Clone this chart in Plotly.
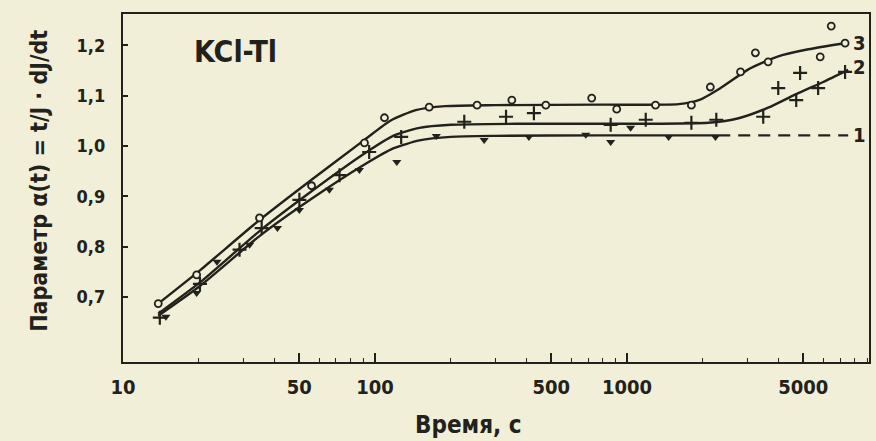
import plotly.graph_objects as go

# ---- data (time in s, parameter alpha) ----
# curve 3 (open circles)
c3_t = [13.8, 19.6, 34.8, 56, 90.8, 109, 164, 254, 349, 476, 724, 910, 1297, 1800, 2140, 2820, 3230, 3630, 5840, 6460, 7330]
c3_v = [0.687, 0.744, 0.857, 0.921, 1.006, 1.056, 1.077, 1.081, 1.091, 1.081, 1.095, 1.073, 1.081, 1.081, 1.117, 1.147, 1.185, 1.167, 1.177, 1.238, 1.204]
c3_line_t = [13.8, 20.2, 34.8, 56, 90.8, 115, 145, 190, 300, 800, 1600, 1950, 2350, 3030, 3980, 5240, 7330]
c3_line_v = [0.687, 0.753, 0.853, 0.933, 1.012, 1.050, 1.071, 1.079, 1.081, 1.082, 1.083, 1.092, 1.115, 1.152, 1.178, 1.192, 1.204]

# curve 2 (crosses)
c2_t = [14.0, 20.2, 29.0, 35.5, 50.1, 72.3, 94.8, 127, 226, 331, 427, 861, 1186, 1800, 2260, 3470, 3980, 4690, 4860, 5730, 7330]
c2_v = [0.659, 0.726, 0.794, 0.837, 0.893, 0.942, 0.988, 1.018, 1.048, 1.058, 1.065, 1.042, 1.052, 1.046, 1.052, 1.058, 1.115, 1.091, 1.145, 1.115, 1.147]
c2_line_t = [13.8, 20.2, 34.8, 56, 90.8, 118, 150, 200, 372, 1110, 2100, 2770, 3630, 4780, 6000, 7540]
c2_line_v = [0.667, 0.729, 0.831, 0.910, 0.985, 1.020, 1.036, 1.042, 1.044, 1.044, 1.046, 1.055, 1.076, 1.105, 1.127, 1.151]

# curve 1 (filled triangles)
c1_t = [14.8, 19.6, 23.6, 31.8, 41.0, 50.1, 65.9, 86.7, 122, 175, 271, 408, 686, 861, 1033, 1462, 2243]
c1_v = [0.661, 0.708, 0.770, 0.804, 0.837, 0.873, 0.913, 0.952, 0.968, 1.020, 1.012, 1.018, 1.022, 1.008, 1.036, 1.018, 1.018]
c1_line_t = [13.8, 20.2, 34.8, 56, 90.8, 118, 150, 200, 300, 773, 2300]
c1_line_v = [0.663, 0.722, 0.821, 0.895, 0.963, 0.995, 1.011, 1.018, 1.020, 1.021, 1.021]
c1_dash_t = [2300, 7540]
c1_dash_v = [1.021, 1.021]

x_tickvals = [10, 50, 100, 500, 1000, 5000]
x_ticktext = ["10", "50", "100", "500", "1000", "5000"]
x_minor = [20, 30, 40, 60, 70, 80, 90, 200, 300, 400, 600, 700, 800, 900,
           2000, 3000, 4000, 6000, 7000, 8000, 9000]
y_tickvals = [0.7, 0.8, 0.9, 1.0, 1.1, 1.2]
y_ticktext = ["0,7", "0,8", "0,9", "1,0", "1,1", "1,2"]

INK = "#22221c"
PAPER = "#f2efd8"
FAM = "DejaVu Sans Condensed, Liberation Sans Narrow, Liberation Sans, sans-serif"

fig = go.Figure()

def line(t, v, dash="solid"):
    fig.add_trace(go.Scatter(x=t, y=v, mode="lines",
                             line=dict(color=INK, width=2.4, shape="spline", smoothing=0.6, dash=dash),
                             showlegend=False, hoverinfo="skip"))

line(c3_line_t, c3_line_v)
line(c2_line_t, c2_line_v)
line(c1_line_t, c1_line_v)
fig.add_trace(go.Scatter(x=c1_dash_t, y=c1_dash_v, mode="lines",
                         line=dict(color=INK, width=2.4, dash="12px,8px"), showlegend=False))

fig.add_trace(go.Scatter(x=c3_t, y=c3_v, mode="markers", name="3",
                         marker=dict(symbol="circle", size=7, color=PAPER, line=dict(color=INK, width=1.8)),
                         showlegend=False))
fig.add_trace(go.Scatter(x=c2_t, y=c2_v, mode="markers", name="2",
                         marker=dict(symbol="cross-thin", size=10, color=INK, line=dict(color=INK, width=2.2)),
                         showlegend=False))
fig.add_trace(go.Scatter(x=c1_t, y=c1_v, mode="markers", name="1",
                         marker=dict(symbol="triangle-down", size=8, color=INK),
                         showlegend=False))

fig.update_layout(
    width=876, height=441,
    margin=dict(l=123, r=5, t=14, b=79),
    paper_bgcolor=PAPER, plot_bgcolor=PAPER,
    font=dict(family=FAM, color=INK),
    xaxis=dict(type="log", range=[1.0, 3.96], tickmode="array", tickvals=x_tickvals, ticktext=x_ticktext,
               ticks="inside", ticklen=9, tickwidth=1.6, tickcolor=INK, ticklabelstandoff=6,
               minor=dict(tickmode="array", tickvals=x_minor, ticks="inside", ticklen=4, tickwidth=1.3, tickcolor=INK),
               showline=True, linecolor=INK, linewidth=2.4, mirror=True, showgrid=False, zeroline=False,
               tickfont=dict(family=FAM, size=20, color=INK, weight="bold")),
    yaxis=dict(range=[0.571, 1.262], tickmode="array", tickvals=y_tickvals, ticktext=y_ticktext,
               ticks="inside", ticklen=5, tickwidth=1.6, tickcolor=INK, ticklabelstandoff=12,
               showline=True, linecolor=INK, linewidth=2.4, mirror=True, showgrid=False, zeroline=False,
               tickfont=dict(family=FAM, size=18, color=INK, weight="bold")),
)

fig.add_annotation(text="<b>KCl-Tl</b>", x=(236 - 123) / 748, y=0.891, xref="paper", yref="paper",
                   showarrow=False, xanchor="center", yanchor="middle",
                   font=dict(family=FAM, size=30, color=INK))
for lab, yv in [("3", 1.204), ("2", 1.157), ("1", 1.021)]:
    fig.add_annotation(text="<b>" + lab + "</b>", x=(861 - 123) / 748, y=yv, xref="paper", yref="y",
                       showarrow=False, xanchor="center", yanchor="middle",
                       font=dict(family=FAM, size=20, color=INK))
fig.add_annotation(text="<b>Время, с</b>", x=(469 - 123) / 748, y=-0.18, xref="paper", yref="paper",
                   showarrow=False, xanchor="center", yanchor="middle",
                   font=dict(family=FAM, size=24, color=INK))
fig.add_annotation(text="<b>Параметр α(t) = t/J · dJ/dt</b>", textangle=-90, x=-0.113, y=0.52,
                   xref="paper", yref="paper", showarrow=False, xanchor="center", yanchor="middle",
                   font=dict(family=FAM, size=23, color=INK))

fig.write_html("out.html")
